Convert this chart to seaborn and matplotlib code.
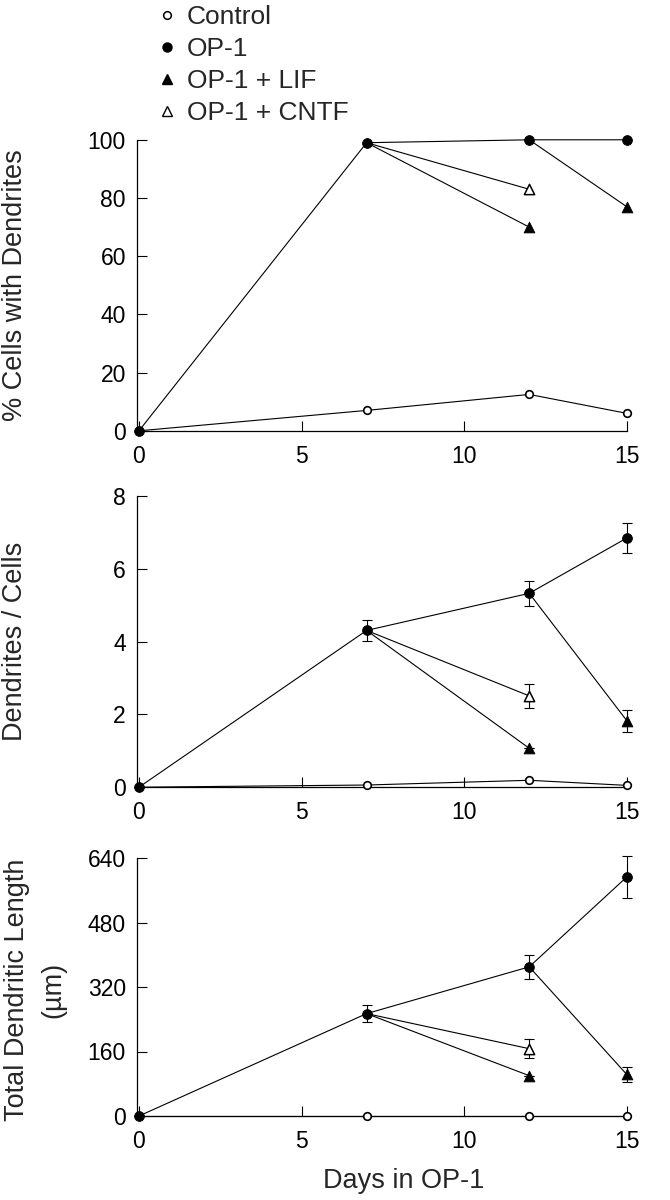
import matplotlib
matplotlib.use("Agg")
import matplotlib.pyplot as plt
from matplotlib.lines import Line2D
import seaborn as sns
import pandas as pd

# Data
days = [0, 7, 12, 15]

# % cells with dendrites
pct_control = [0, 7, 12.5, 6]
pct_op1 = [0, 99, 100, 100]
pct_lif = [70, 77]          # LIF added at day 7 -> read at 12, added at day 12 -> read at 15
pct_cntf = [83]             # CNTF added at day 7 -> read at 12

# dendrites / cell
dpc_control = [0, 0.06, 0.19, 0.05]
dpc_op1 = [0, 4.31, 5.33, 6.85]
dpc_op1_err = [0, 0.29, 0.35, 0.40]
dpc_lif = [1.07, 1.83]
dpc_lif_err = [0, 0.30]
dpc_cntf = [2.51]
dpc_cntf_err = [0.33]

# total dendritic length (um)
len_control = [0, 0, 0, 0]
len_op1 = [0, 254, 370, 593]
len_op1_err = [0, 22, 29, 52]
len_lif = [100, 103]
len_lif_err = [0, 19]
len_cntf = [167]
len_cntf_err = [24]

lif_days = [12, 15]
lif_from = [7, 12]
cntf_days = [12]
cntf_from = [7]

sns.set_theme(style="ticks")
plt.rcParams["font.family"] = ["Liberation Sans", "DejaVu Sans"]

fig = plt.figure(figsize=(6.7, 12), dpi=100)
L, W = 0.2045, 0.731
axes = [fig.add_axes([L, 0.641, W, 0.2425]),
        fig.add_axes([L, 0.344, W, 0.2425]),
        fig.add_axes([L, 0.070, W, 0.215])]


def build_segments(ctrl, op1, lif, cntf):
    rows = []
    for d, v in zip(days, ctrl):
        rows.append(dict(seg="control", day=d, val=v))
    for d, v in zip(days, op1):
        rows.append(dict(seg="op1", day=d, val=v))
    for i, (d0, d1, v) in enumerate(zip(lif_from, lif_days, lif)):
        rows.append(dict(seg=f"lif{i}", day=d0, val=op1[days.index(d0)]))
        rows.append(dict(seg=f"lif{i}", day=d1, val=v))
    for i, (d0, d1, v) in enumerate(zip(cntf_from, cntf_days, cntf)):
        rows.append(dict(seg=f"cntf{i}", day=d0, val=op1[days.index(d0)]))
        rows.append(dict(seg=f"cntf{i}", day=d1, val=v))
    return pd.DataFrame(rows)


panels = [
    (pct_control, pct_op1, pct_lif, pct_cntf, None, None, None),
    (dpc_control, dpc_op1, dpc_lif, dpc_cntf, dpc_op1_err, dpc_lif_err, dpc_cntf_err),
    (len_control, len_op1, len_lif, len_cntf, len_op1_err, len_lif_err, len_cntf_err),
]
ylims = [(0, 100), (0, 8), (0, 640)]
yticks = [[0, 20, 40, 60, 80, 100], [0, 2, 4, 6, 8], [0, 160, 320, 480, 640]]
ylabels = ["% Cells with Dendrites", "Dendrites / Cells", "Total Dendritic Length\n(\u00b5m)"]

for ax, (ctrl, op1, lif, cntf, e_op1, e_lif, e_cntf), yl, yt, lab in zip(
        axes, panels, ylims, yticks, ylabels):
    df = build_segments(ctrl, op1, lif, cntf)
    sns.lineplot(data=df, x="day", y="val", units="seg", estimator=None,
                 color="black", lw=0.8, legend=False, ax=ax, clip_on=False)

    # error bars
    if e_op1 is not None:
        for xs, ys, es in [(days, op1, e_op1), (lif_days, lif, e_lif), (cntf_days, cntf, e_cntf)]:
            ax.errorbar(xs, ys, yerr=es, fmt="none", ecolor="black",
                        elinewidth=0.8, capsize=3.6, capthick=0.8, clip_on=False)

    # markers
    sns.scatterplot(x=days[1:], y=ctrl[1:], marker="o", s=30, facecolor="white",
                    edgecolor="black", linewidth=1.2, ax=ax, clip_on=False, zorder=4)
    sns.scatterplot(x=days, y=op1, marker="o", s=50, color="black",
                    edgecolor="black", ax=ax, clip_on=False, zorder=5)
    sns.scatterplot(x=lif_days, y=lif, marker="^", s=60, color="black",
                    edgecolor="black", ax=ax, clip_on=False, zorder=5)
    sns.scatterplot(x=cntf_days, y=cntf, marker="^", s=55, facecolor="white",
                    edgecolor="black", linewidth=1.1, ax=ax, clip_on=False, zorder=5)

    ax.set_xlim(-0.06, 15)
    ax.set_ylim(*yl)
    ax.set_yticks(yt)
    ax.set_xticks([0, 5, 10, 15])
    ax.tick_params(direction="in", length=7, width=0.8, labelsize=16.5,
                   colors="black")
    ax.tick_params(axis="y", pad=8)
    ax.tick_params(axis="x", pad=10)
    for s in ["left", "bottom"]:
        ax.spines[s].set_linewidth(0.9)
        ax.spines[s].set_color("black")
    sns.despine(ax=ax)
    ax.set_xlabel("")
    ax.set_ylabel(lab, fontsize=19.5, linespacing=1.5)

axes[0].yaxis.set_label_coords(-0.222, 0.5)
axes[1].yaxis.set_label_coords(-0.222, 0.5)
axes[2].yaxis.set_label_coords(-0.145, 0.49)
axes[2].set_xlabel("Days in OP-1", fontsize=19.5)
axes[2].xaxis.set_label_coords(0.545, -0.2)

handles = [
    Line2D([], [], ls="none", marker="o", ms=5.5, mfc="white", mec="black", mew=1.1),
    Line2D([], [], ls="none", marker="o", ms=6.5, mfc="black", mec="black"),
    Line2D([], [], ls="none", marker="^", ms=6.5, mfc="black", mec="black"),
    Line2D([], [], ls="none", marker="^", ms=6.5, mfc="white", mec="black", mew=1.0),
]
fig.legend(handles, ["Control", "OP-1", "OP-1 + LIF", "OP-1 + CNTF"],
           loc="upper left", bbox_to_anchor=(0.233, 0.9955), frameon=False,
           fontsize=19, handlelength=0.8, handletextpad=0.36, labelspacing=0.3,
           borderpad=0.0, borderaxespad=0.0)

fig.savefig("out.png", dpi=100, facecolor="white")
